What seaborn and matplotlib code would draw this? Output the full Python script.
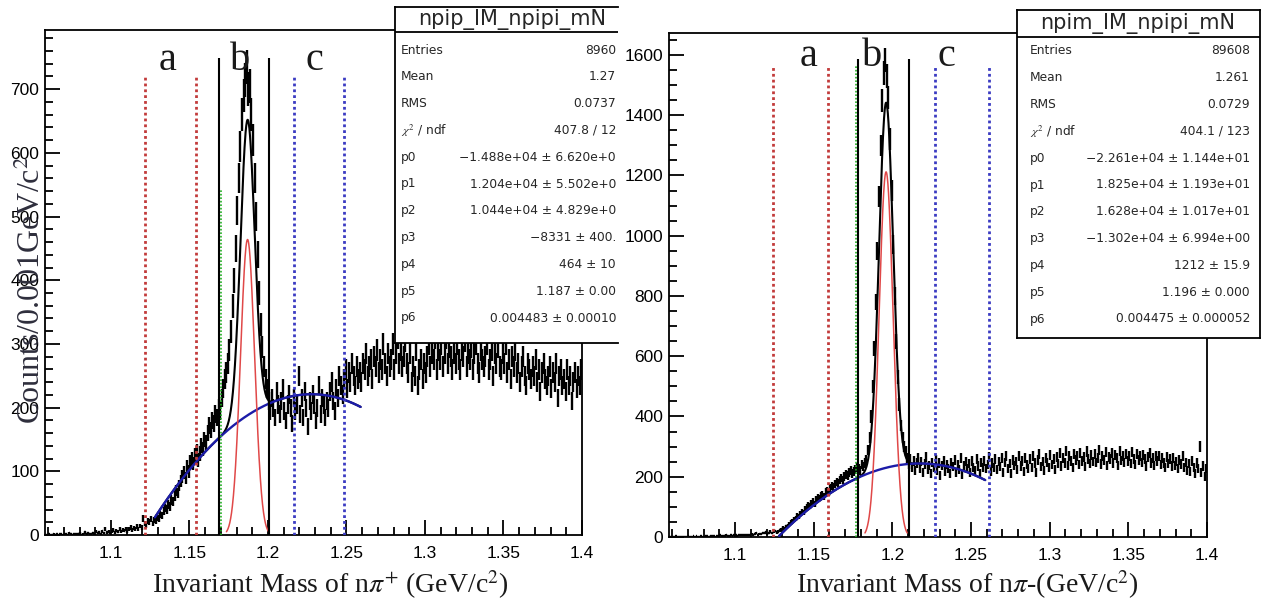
import numpy as np
import matplotlib
matplotlib.use("Agg")
import matplotlib.pyplot as plt
from matplotlib.ticker import MultipleLocator
import seaborn as sns

W, H = 1263, 609

# ---------------- data ----------------
bin_start = 1.058
bin_width = 0.001

# npi+ invariant mass, counts per 0.001 GeV bin (from 1.058)
npip_counts = [
    0, 0, 1, 0, 0, 2, 0, 1, 0, 1,
    1, 0, 2, 1, 0, 3, 1, 0, 2, 1,
    2, 1, 3, 0, 2, 4, 1, 3, 2, 2,
    3, 2, 5, 3, 4, 2, 6, 3, 9, 4,
    5, 3, 6, 8, 4, 7, 5, 9, 6, 8,
    7, 10, 6, 9, 12, 8, 11, 9, 13, 10,
    14, 12, 26, 18, 15, 22, 20, 25, 18, 24,
    22, 28, 26, 32, 30, 38, 42, 40, 48, 45,
    55, 52, 62, 70, 66, 78, 85, 92, 98, 90,
    108, 100, 115, 120, 112, 125, 132, 118, 128, 140,
    135, 150, 145, 160, 172, 165, 180, 175, 190, 185,
    200, 195, 215, 230, 245, 255, 270, 290, 320, 360,
    400, 450, 510, 560, 610, 660, 690, 715, 735, 700,
    705, 660, 620, 560, 500, 440, 380, 330, 295, 265,
    245, 230, 210, 195, 215, 200, 185, 225, 205, 190,
    210, 230, 195, 180, 205, 220, 200, 175, 215, 195,
    205, 250, 190, 215, 185, 225, 200, 170, 210, 195,
    220, 205, 180, 200, 235, 190, 215, 205, 185, 210,
    200, 225, 240, 210, 195, 230, 215, 250, 235, 220,
    245, 260, 230, 255, 240, 270, 250, 235, 265, 245,
    255, 240, 270, 260, 285, 250, 265, 275, 245, 280,
    265, 290, 255, 275, 260, 300, 270, 250, 285, 265,
    275, 300, 260, 285, 310, 270, 290, 265, 280, 305,
    270, 255, 285, 240, 265, 250, 290, 235, 260, 275,
    245, 270, 255, 280, 300, 265, 285, 275, 310, 260,
    290, 275, 300, 265, 285, 310, 270, 295, 280, 260,
    285, 270, 300, 275, 260, 290, 280, 305, 265, 285,
    275, 295, 260, 285, 300, 270, 255, 290, 275, 265,
    280, 300, 260, 275, 290, 250, 285, 270, 295, 265,
    260, 285, 270, 300, 255, 275, 245, 280, 265, 290,
    255, 270, 240, 265, 280, 250, 235, 270, 260, 245,
    265, 250, 275, 240, 260, 225, 255, 270, 245, 235,
    250, 265, 230, 255, 240, 270, 215, 250, 260, 235,
    245, 225, 260, 235, 250, 210, 240, 255, 230, 250,
    235, 260,
]

# npi- invariant mass
npim_counts = [
    0, 1, 0, 0, 2, 0, 1, 0, 0, 1,
    1, 0, 2, 0, 1, 3, 0, 2, 1, 0,
    2, 1, 0, 3, 2, 1, 4, 2, 3, 1,
    3, 2, 5, 2, 4, 3, 6, 4, 3, 5,
    4, 6, 5, 3, 7, 5, 8, 6, 5, 7,
    8, 6, 10, 7, 9, 12, 8, 11, 10, 13,
    12, 15, 11, 14, 18, 13, 16, 20, 15, 18,
    22, 25, 30, 28, 35, 38, 42, 48, 52, 58,
    62, 70, 68, 78, 85, 82, 92, 98, 105, 102,
    112, 118, 110, 125, 130, 128, 138, 142, 135, 150,
    155, 148, 162, 170, 165, 175, 182, 178, 190, 195,
    188, 200, 208, 205, 215, 220, 212, 218, 225, 230,
    228, 222, 240, 235, 245, 255, 290, 330, 400, 500,
    625, 780, 950, 1130, 1300, 1450, 1540, 1585, 1530, 1460,
    1320, 1150, 970, 800, 650, 530, 440, 370, 330, 300,
    285, 262, 240, 258, 230, 252, 220, 246, 262, 228,
    250, 215, 242, 265, 225, 238, 210, 248, 232, 255,
    222, 245, 205, 238, 252, 218, 240, 228, 212, 246,
    235, 256, 215, 240, 224, 262, 208, 236, 250, 226,
    244, 215, 252, 232, 220, 258, 236, 212, 248, 230,
    252, 226, 240, 265, 218, 246, 232, 260, 225, 250,
    235, 262, 215, 248, 270, 228, 244, 210, 256, 238,
    250, 225, 268, 236, 252, 218, 262, 240, 228, 258,
    232, 270, 245, 215, 255, 276, 235, 250, 222, 262,
    248, 230, 272, 240, 258, 225, 266, 244, 280, 236,
    262, 245, 285, 238, 270, 252, 230, 276, 255, 268,
    240, 278, 252, 266, 235, 284, 258, 244, 272, 250,
    276, 248, 262, 290, 242, 268, 255, 282, 238, 265,
    258, 280, 246, 272, 262, 238, 286, 254, 270, 248,
    275, 252, 268, 244, 282, 260, 240, 276, 256, 270,
    248, 272, 258, 236, 266, 280, 245, 262, 238, 268,
    252, 270, 240, 262, 246, 232, 266, 244, 258, 236,
    262, 238, 250, 226, 256, 242, 268, 230, 248, 222,
    244, 218, 252, 232, 210, 246, 226, 300, 214, 236,
    200, 228,
]

# fit parameters shown in the stats boxes (pol3 + gaus)
npip_fit = [-1.488e4, 1.204e4, 1.044e4, -8331.0, 464.0, 1.187, 0.004483]
npim_fit = [-2.261e4, 1.825e4, 1.628e4, -1.302e4, 1212.0, 1.196, 0.004475]
fit_range = (1.128, 1.259)

# selection windows a / b / c
npip_cut_a = [1.1217, 1.1542]
npip_cut_b = [1.1688, 1.2007]
npip_cut_c = [1.2166, 1.2484]
npip_green = 1.1701
npim_cut_a = [1.1241, 1.1591]
npim_cut_b = [1.1782, 1.2106]
npim_cut_c = [1.2271, 1.2614]
npim_green = 1.1769

npip_letter_x = [1.1363, 1.1822, 1.2293]
npim_letter_x = [1.1470, 1.1871, 1.2341]
letters = ["a", "b", "c"]

x_ticks = [1.1, 1.15, 1.2, 1.25, 1.3, 1.35, 1.4]
x_tick_labels = ["1.1", "1.15", "1.2", "1.25", "1.3", "1.35", "1.4"]

npip_stats = [
    ("Entries", "8960"), ("Mean", "1.27"), ("RMS", "0.0737"),
    (r"$\chi^{2}$ / ndf", "407.8 / 12"),
    ("p0", "\u22121.488e+04 \u00b1 6.620e+0"),
    ("p1", "1.204e+04 \u00b1 5.502e+0"),
    ("p2", "1.044e+04 \u00b1 4.829e+0"),
    ("p3", "\u22128331 \u00b1 400."),
    ("p4", "464 \u00b1 10"),
    ("p5", "1.187 \u00b1 0.00"),
    ("p6", "0.004483 \u00b1 0.00010"),
]
npim_stats = [
    ("Entries", "89608"), ("Mean", "1.261"), ("RMS", "0.0729"),
    (r"$\chi^{2}$ / ndf", "404.1 / 123"),
    ("p0", "\u22122.261e+04 \u00b1 1.144e+01"),
    ("p1", "1.825e+04 \u00b1 1.193e+01"),
    ("p2", "1.628e+04 \u00b1 1.017e+01"),
    ("p3", "\u22121.302e+04 \u00b1 6.994e+00"),
    ("p4", "1212 \u00b1 15.9"),
    ("p5", "1.196 \u00b1 0.000"),
    ("p6", "0.004475 \u00b1 0.000052"),
]

# ---------------- style ----------------
sns.set_theme(style="ticks")
plt.rcParams["font.family"] = ["Liberation Sans", "DejaVu Sans"]
plt.rcParams["mathtext.fontset"] = "stix"
plt.rcParams["axes.linewidth"] = 1.3

fig = plt.figure(figsize=(W / 100, H / 100), dpi=100)
fig.patch.set_facecolor("white")


def px_rect(x0, y0, x1, y1):
    return [x0 / W, 1 - y1 / H, (x1 - x0) / W, (y1 - y0) / H]


def draw_panel(ax, counts, fit, ymax, ymajor, yminor):
    counts = np.asarray(counts, dtype=float)
    centers = bin_start + bin_width * (np.arange(len(counts)) + 0.5)
    ax.errorbar(centers, counts, yerr=np.sqrt(counts), xerr=bin_width / 2,
                fmt="none", ecolor="black", elinewidth=1.7, capsize=0, zorder=2)

    p0, p1, p2, p3, p4, p5, p6 = fit
    xs = np.linspace(fit_range[0], fit_range[1], 600)
    bg = p0 + p1 * xs + p2 * xs ** 2 + p3 * xs ** 3
    sig = p4 * np.exp(-0.5 * ((xs - p5) / p6) ** 2)
    sns.lineplot(x=xs, y=bg + sig, color="black", lw=1.5, estimator=None, ax=ax, zorder=3)
    sns.lineplot(x=xs, y=bg, color="#1c1ca8", lw=1.7, estimator=None, ax=ax, zorder=4)
    xg = np.linspace(p5 - 3 * p6, p5 + 3 * p6, 200)
    sns.lineplot(x=xg, y=p4 * np.exp(-0.5 * ((xg - p5) / p6) ** 2), color="#e04848",
                 lw=1.1, estimator=None, ax=ax, zorder=4)

    ax.set_xlim(1.058, 1.4)
    ax.set_ylim(0, ymax)
    ax.set_xticks(x_ticks)
    ax.set_xticklabels(x_tick_labels)
    ax.xaxis.set_minor_locator(MultipleLocator(0.01))
    ax.yaxis.set_major_locator(MultipleLocator(ymajor))
    ax.yaxis.set_minor_locator(MultipleLocator(yminor))
    ax.tick_params(which="both", direction="in", top=False, right=False, width=1.3,
                   labelsize=12.5, colors="black")
    ax.tick_params(which="major", length=11)
    ax.tick_params(which="minor", length=5.5)
    ax.tick_params(axis="x", pad=8)
    ax.tick_params(axis="y", pad=4)
    ax.set_xlabel("")
    ax.set_ylabel("")
    for s in ax.spines.values():
        s.set_visible(True)
        s.set_color("black")
        s.set_linewidth(1.3)


def draw_cuts(ax, cut_a, cut_b, cut_c, green, top_ab, top_black, top_green):
    dot = (0, (1, 1.1))
    ax.vlines(cut_a, 0, top_ab, colors="#c23b3b", linestyles=[dot], lw=2.0, zorder=5)
    ax.vlines(cut_c, 0, top_ab, colors="#3b3bc2", linestyles=[dot], lw=2.0, zorder=5)
    ax.vlines([green], 0, top_green, colors="#22b022", linestyles=[dot], lw=1.2, zorder=5)
    ax.vlines(cut_b, 0, top_black, colors="black", lw=1.5, zorder=5)


def draw_letters(ax, xs, y):
    for lx, t in zip(xs, letters):
        ax.text(lx, y, t, ha="center", va="baseline", fontsize=29,
                family="Liberation Serif", color="#1a1a1a", zorder=6)


def stats_box(x0, y0, x1, y1, sep, title, tcx, tcy, rows, row0, lab_x, val_x, right_spine):
    bax = fig.add_axes(px_rect(x0, y0, x1, y1))
    bax.set_xlim(x0, x1)
    bax.set_ylim(y1, y0)
    bax.set_xticks([])
    bax.set_yticks([])
    bax.set_facecolor("white")
    for s in bax.spines.values():
        s.set_color("black")
        s.set_linewidth(1.3)
    bax.spines["right"].set_visible(right_spine)
    bax.axhline(sep, color="black", lw=1.3)
    bax.text(tcx, tcy, title, ha="center", va="center", fontsize=15,
             family="DejaVu Sans", clip_on=True)
    for i, (lab, val) in enumerate(rows):
        y = row0 + i * 26.8
        bax.text(lab_x, y, lab, ha="left", va="center", fontsize=8.8, family="DejaVu Sans")
        bax.text(val_x, y, val, ha="right", va="center", fontsize=8.8,
                 family="DejaVu Sans", clip_on=True)


# ---------------- left panel ----------------
axL = fig.add_axes(px_rect(45, 30, 582, 535))
draw_panel(axL, npip_counts, npip_fit, 793, 100, 20)
draw_cuts(axL, npip_cut_a, npip_cut_b, npip_cut_c, npip_green, 719, 749, 542)
draw_letters(axL, npip_letter_x, 730)

# ---------------- right panel ----------------
axR = fig.add_axes(px_rect(669, 33, 1207, 537))
draw_panel(axR, npim_counts, npim_fit, 1673, 200, 50)
draw_cuts(axR, npim_cut_a, npim_cut_b, npim_cut_c, npim_green, 1560, 1588, 1567)
draw_letters(axR, npim_letter_x, 1563)

# stats boxes
stats_box(395, 7, 618, 343, 32, "npip_IM_npipi_mN", 512, 20, npip_stats, 50, 401, 616, False)
stats_box(1017, 10, 1260, 338, 37, "npim_IM_npipi_mN", 1138, 23, npim_stats, 51, 1030, 1250, True)

# axis titles (the y title sits over the tick labels, as in the original)
fig.text(32 / W, 1 - 290 / H, "Counts/0.001GeV/c$^{2}$", rotation=90, ha="center",
         va="center", fontsize=23, family="Liberation Serif", color="#2e2e3c", zorder=10)
fig.text(330 / W, 1 - 593 / H, r"Invariant Mass of n$\pi^{+}$ (GeV/c$^{2}$)", ha="center",
         va="baseline", fontsize=20, family="Liberation Serif", color="#1a1a1a")
fig.text(967 / W, 1 - 593 / H, r"Invariant Mass of n$\pi$-(GeV/c$^{2}$)", ha="center",
         va="baseline", fontsize=20, family="Liberation Serif", color="#1a1a1a")

fig.savefig("out.png", dpi=100)
